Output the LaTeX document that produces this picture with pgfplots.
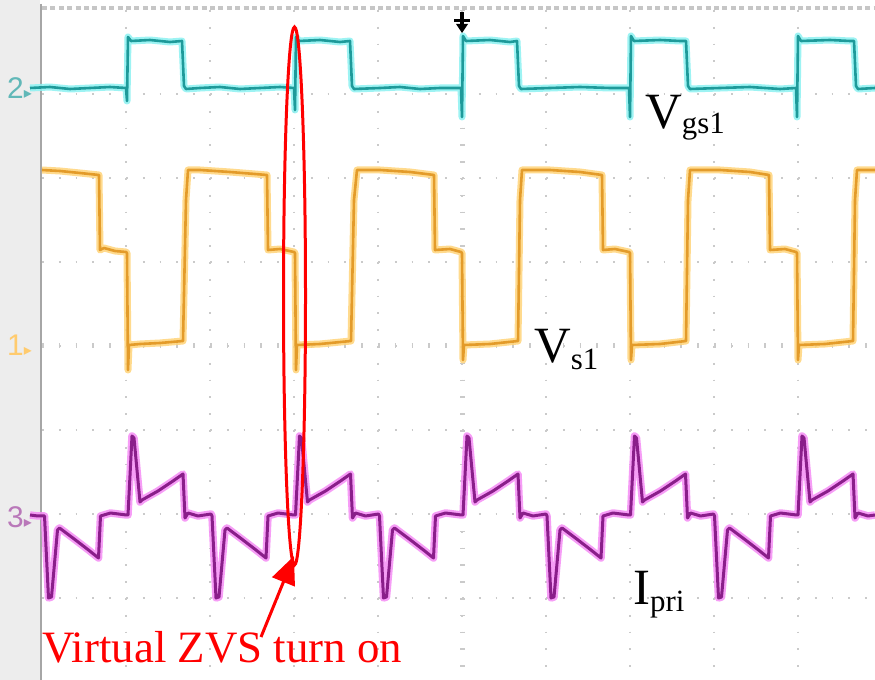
\documentclass[border=0pt]{standalone}
\usepackage{pgfplots}
\pgfplotsset{compat=1.18}
\usepackage{pgfplotstable}
\usepackage{graphicx}
\usepackage{fontspec}
\setmainfont{Liberation Serif}
\setsansfont{Liberation Sans}
\newfontfamily\dejavu{DejaVu Sans}
\usetikzlibrary{arrows.meta}

\definecolor{vgsglow}{HTML}{8CF2F2}
\definecolor{vgscore}{HTML}{1E9A9A}
\definecolor{vsglow}{HTML}{FFD47A}
\definecolor{vscore}{HTML}{E39B2A}
\definecolor{ipglow}{HTML}{F58CF5}
\definecolor{ipcore}{HTML}{8A1E8A}
\definecolor{gridc}{HTML}{CACACA}
\definecolor{stripc}{HTML}{EDEDED}

\pgfplotstableread{
x y
30 88
50 87
70 89
90 88
110 87
126 88
127 101
128 37
131 41
150 40
170 42
182 41
184 86
186 89
200 88
220 87
240 89
260 88
280 87
294 88
295 110
296 37
299 41
320 40
340 42
350 41
352 86
354 89
380 88
400 87
420 89
440 88
461 88
462 117
463 36
466 41
490 40
510 42
517 41
519 86
521 89
550 88
580 87
610 88
629 88
630 117
631 36
634 41
660 40
680 41
686 41
688 86
690 89
720 88
750 87
780 89
796 88
797 117
798 36
801 41
830 40
850 41
854 41
856 86
858 89
875 88
}\vgs

\pgfplotstableread{
x y
42 170
60 171
80 173
99 175
100 250
104 248
115 251
126 252
127 253
128 370
129 345
140 344
160 343
183 341
186 200
188 170
200 170
230 172
255 174
267 175
268 250
280 249
294 252
295 253
296 370
297 345
320 344
351 341
354 200
357 170
380 170
410 172
434 175
435 250
450 249
461 252
462 253
463 360
464 345
490 344
518 341
520 200
522 170
550 170
580 172
602 175
603 250
615 249
629 252
630 253
631 360
632 345
660 344
686 341
688 200
690 170
720 170
750 172
769 175
770 250
785 249
796 252
797 253
798 360
799 345
825 344
853 341
855 200
857 170
875 170
}\vs

\pgfplotstableread{
x y
30 515
38 516
44.5 516
48.5 598
51.5 597
57.5 530
59.5 528
75.5 540
88.5 550
98.5 558
100.5 516
110.5 513
126.5 515
128 515
132 436
134 438
140 502
142 500
158 491
173 481
183 474
185 518
188 513
198 516
211 514
212 516
216 598
219 597
225 530
227 528
243 540
256 550
266 558
268 516
278 513
294 515
295.5 515
299.5 436
301.5 438
307.5 502
309.5 500
325.5 491
340.5 481
350.5 474
352.5 518
355.5 513
365.5 516
378.5 514
379.5 516
383.5 598
386.5 597
392.5 530
394.5 528
410.5 540
423.5 550
433.5 558
435.5 516
445.5 513
461.5 515
463 515
467 436
469 438
475 502
477 500
493 491
508 481
518 474
520 518
523 513
533 516
546 514
547 516
551 598
554 597
560 530
562 528
578 540
591 550
601 558
603 516
613 513
629 515
630.5 515
634.5 436
636.5 438
642.5 502
644.5 500
660.5 491
675.5 481
685.5 474
687.5 518
690.5 513
700.5 516
713.5 514
714.5 516
718.5 598
721.5 597
727.5 530
729.5 528
745.5 540
758.5 550
768.5 558
770.5 516
780.5 513
796.5 515
798 515
802 436
804 438
810 502
812 500
828 491
843 481
853 474
855 518
858 513
868 516
875 515
}\ipri

\begin{document}
\begin{tikzpicture}
\begin{axis}[
  width=875bp, height=680bp, scale only axis,
  xmin=0, xmax=875, ymin=0, ymax=680, y dir=reverse,
  hide axis, clip=true,
]
% background
\fill[white] (axis cs:0,0) rectangle (axis cs:875,680);
\fill[stripc] (axis cs:0,0) rectangle (axis cs:40,680);
% grid
\foreach \gx in {126,210,294,378,462,546,630,714,798} {
  \edef\tmp{\noexpand\draw[gridc, line width=1.8bp, dash pattern=on 1.8bp off 15bp] (axis cs:\gx,10) -- (axis cs:\gx,680);}\tmp
}
\foreach \gy in {94,178,262,346,430,514,598} {
  \edef\tmp{\noexpand\draw[gridc, line width=1.8bp, dash pattern=on 1.8bp off 15bp] (axis cs:42,\gy) -- (axis cs:875,\gy);}\tmp
}
\draw[gridc, line width=5bp, dash pattern=on 1.5bp off 15.3bp] (axis cs:462,10) -- (axis cs:462,680);
\draw[gridc, line width=5bp, dash pattern=on 1.5bp off 15.3bp] (axis cs:42,346) -- (axis cs:875,346);
\draw[gray!70, line width=1.5bp] (axis cs:41,4) -- (axis cs:41,680);
\draw[gray!45, line width=4bp, dash pattern=on 5bp off 3.4bp] (axis cs:42,8) -- (axis cs:875,8);

% traces with glow
\addplot[vgsglow, line width=7bp, line join=round, opacity=0.85] table {\vgs};
\addplot[vgscore, line width=2.6bp, line join=round] table {\vgs};
\addplot[vsglow, line width=7bp, line join=round, opacity=0.85] table {\vs};
\addplot[vscore, line width=2.6bp, line join=round] table {\vs};
\addplot[ipglow, line width=7.5bp, line join=round, opacity=0.85] table {\ipri};
\addplot[ipcore, line width=3bp, line join=round] table {\ipri};

% channel markers
\node[anchor=west, inner sep=0, text=vgscore!70] at (axis cs:7,88) {\sffamily\fontsize{30}{30}\selectfont 2{\dejavu\fontsize{16}{16}\selectfont ▸}};
\node[anchor=west, inner sep=0, text=vsglow!90!orange] at (axis cs:7,345) {\sffamily\fontsize{30}{30}\selectfont 1{\dejavu\fontsize{16}{16}\selectfont ▸}};
\node[anchor=west, inner sep=0, text=ipcore!60] at (axis cs:7,517) {\sffamily\fontsize{30}{30}\selectfont 3{\dejavu\fontsize{16}{16}\selectfont ▸}};

% trigger marker
\draw[black, line width=3bp] (axis cs:454,21) -- (axis cs:470,21);
\draw[black, line width=3.5bp] (axis cs:462,12) -- (axis cs:462,27);
\fill[black] (axis cs:456,24) -- (axis cs:468,24) -- (axis cs:462,33) -- cycle;

% labels
\node[anchor=base west, inner sep=0] at (axis cs:645,129) {\fontsize{51}{51}\selectfont V\raisebox{-5bp}{\fontsize{31}{31}\selectfont gs1}};
\node[anchor=base west, inner sep=0] at (axis cs:534,363) {\fontsize{51}{51}\selectfont V\raisebox{-7bp}{\fontsize{31}{31}\selectfont s1}};
\node[anchor=base west, inner sep=0] at (axis cs:633,605) {\fontsize{51}{51}\selectfont I\raisebox{-7bp}{\fontsize{31}{31}\selectfont pri}};

% annotation
\draw[red, line width=3bp] (axis cs:294.5,296) ellipse [x radius=11bp, y radius=269bp];
\draw[red, line width=3bp, -{Triangle[length=28bp, width=24bp]}] (axis cs:261,637) -- (axis cs:294,556);
\node[anchor=base west, inner sep=0, text=red] at (axis cs:42,663) {\fontsize{45}{45}\selectfont Virtual ZVS turn on};
\end{axis}
\end{tikzpicture}
\end{document}
